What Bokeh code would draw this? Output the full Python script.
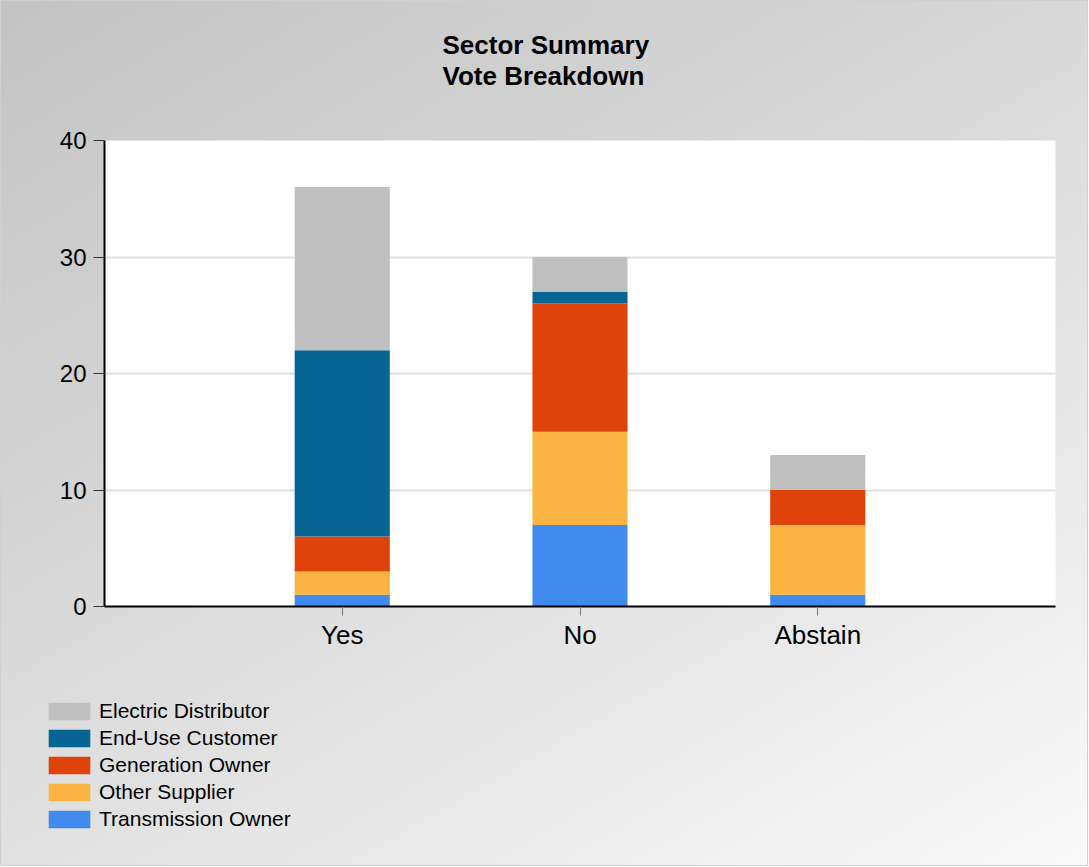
from bokeh.plotting import figure
from bokeh.layouts import column
from bokeh.models import FactorRange, Range1d, Legend, LegendItem, Title, FixedTicker
from bokeh.embed import file_html
from bokeh.resources import INLINE

categories = ["Yes", "No", "Abstain"]
sectors = ["Transmission Owner", "Other Supplier", "Generation Owner", "End-Use Customer", "Electric Distributor"]
transmission_owner = [1, 7, 1]
other_supplier = [2, 8, 6]
generation_owner = [3, 11, 3]
end_use_customer = [16, 1, 0]
electric_distributor = [14, 3, 3]
colors = ["#418bef", "#fbb441", "#df420b", "#066592", "#c0c0c0"]
y_ticks = [0, 10, 20, 30, 40]
title_lines = ["Sector Summary", "Vote Breakdown"]

data = {"cat": categories,
        "Transmission Owner": transmission_owner,
        "Other Supplier": other_supplier,
        "Generation Owner": generation_owner,
        "End-Use Customer": end_use_customer,
        "Electric Distributor": electric_distributor}

FONT = "Liberation Sans"
W = 1086
H_TOP = 698

# ---------------- main chart ----------------
p = figure(width=W, height=H_TOP, output_backend="svg", toolbar_location=None,
           x_range=FactorRange(*categories, range_padding=0.5, range_padding_units="absolute"),
           y_range=Range1d(0, 40),
           min_border_left=103, min_border_right=32, min_border_top=139,
           min_border_bottom=H_TOP - 139 - 466)
p.frame_align = False
p.border_fill_alpha = 0
p.background_fill_color = "white"
p.outline_line_color = None

p.vbar_stack(sectors, x="cat", width=0.4, color=colors, source=data, line_color=None)

p.title = Title(text="\n".join(title_lines) + "\n ", align="left", offset=338, standoff=38,
                text_font=FONT, text_font_size="26px", text_font_style="bold",
                text_color="black", text_line_height=1.03)

p.yaxis.ticker = FixedTicker(ticks=y_ticks)
for ax in (p.xaxis, p.yaxis):
    ax.axis_line_width = 2
    ax.axis_line_color = "black"
    ax.major_label_text_font = FONT
    ax.major_label_text_color = "black"
    ax.minor_tick_line_color = None
    ax.major_tick_in = 0
p.yaxis.major_label_text_font_size = "24px"
p.xaxis.major_label_text_font_size = "26px"
p.yaxis.major_tick_out = 11
p.yaxis.major_tick_line_color = "#333333"
p.yaxis.major_label_standoff = 7
p.xaxis.major_tick_out = 9
p.xaxis.major_tick_line_color = "#777777"
p.xaxis.major_label_standoff = 4

p.xgrid.grid_line_color = None
p.ygrid.grid_line_color = "#e0e0e0"
p.ygrid.grid_line_width = 2

# ---------------- legend strip ----------------
lg = figure(width=W, height=864 - H_TOP, output_backend="svg", toolbar_location=None,
            x_range=FactorRange(*categories), y_range=Range1d(1000, 1001),
            x_axis_type=None, y_axis_type=None,
            min_border_left=42, min_border_right=0, min_border_top=0, min_border_bottom=0)
lg.frame_align = False
lg.border_fill_alpha = 0
lg.background_fill_alpha = 0
lg.outline_line_color = None
lg_renderers = lg.vbar_stack(sectors, x="cat", width=0.4, color=colors, source=data, line_color=None)

items = [LegendItem(label=s, renderers=[r]) for s, r in zip(sectors, lg_renderers)][::-1]
legend = Legend(items=items, location="top_left", orientation="vertical",
                glyph_width=52, glyph_height=22, label_standoff=4, spacing=3,
                padding=0, margin=0, label_text_font=FONT, label_text_font_size="21px",
                label_text_color="black", background_fill_alpha=0, border_line_color=None,
                label_height=18)
lg.add_layout(legend, "center")

layout = column(p, lg, spacing=0)
layout.styles = {"background-image": "linear-gradient(150deg, #c4c4c4 0%, #d4d4d4 35%, #e8e8e8 70%, #fafafa 100%)",
                 "border": "1px solid #d0d0d0"}

open("out.html", "w").write(file_html(layout, INLINE))
